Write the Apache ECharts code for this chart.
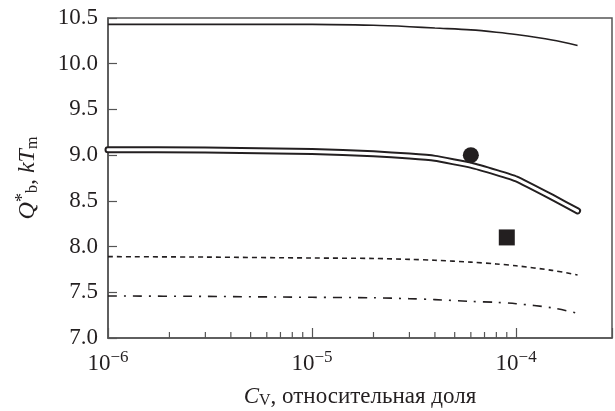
<!DOCTYPE html>
<html>
<head>
<meta charset="utf-8">
<script src="https://cdn.jsdelivr.net/npm/echarts@6/dist/echarts.min.js"></script>
<style>
  html, body { margin: 0; padding: 0; background: #fff; }
  #chart { width: 615px; height: 411px; }
</style>
</head>
<body>
<div id="chart"></div>
<script>
// Vacancy concentration C_V (relative fraction), log scale
const cv = [1e-6, 3e-6, 1e-5, 2e-5, 3e-5, 4e-5, 6e-5, 8e-5, 1e-4, 1.5e-4, 2e-4];

// Q*_b, kT_m curves
const upperSolid = [10.43, 10.43, 10.43, 10.42, 10.405, 10.39, 10.37, 10.345, 10.32, 10.26, 10.20];
const doubleLine = [9.06, 9.055, 9.04, 9.015, 8.99, 8.965, 8.89, 8.81, 8.74, 8.54, 8.39];
const dashed     = [7.89, 7.885, 7.875, 7.87, 7.86, 7.85, 7.83, 7.81, 7.79, 7.74, 7.69];
const dashDot    = [7.46, 7.455, 7.445, 7.44, 7.43, 7.42, 7.40, 7.39, 7.375, 7.33, 7.27];

// Single measured points
const circlePoint = [6e-5, 9.0];
const squarePoint = [9e-5, 8.1];

// Axis settings
const yTicks = [7.0, 7.5, 8.0, 8.5, 9.0, 9.5, 10.0, 10.5];
const xMinorTicks = [2e-6, 3e-6, 4e-6, 5e-6, 6e-6, 7e-6, 8e-6, 9e-6,
                     2e-5, 3e-5, 4e-5, 5e-5, 6e-5, 7e-5, 8e-5, 9e-5];

const pair = ys => cv.map((x, i) => [x, ys[i]]);

const serif = '"Liberation Serif", "DejaVu Serif", serif';
const ink = '#231f20';
const frame = '#555';

const chart = echarts.init(document.getElementById('chart'), null, { renderer: 'canvas' });

chart.setOption({
  animation: false,
  backgroundColor: '#fff',
  grid: {
    left: 108, right: 3, top: 18, bottom: 73,
    outerBoundsMode: 'none',
    containLabel: false,
    show: true, borderColor: frame, borderWidth: 1.5, backgroundColor: 'transparent'
  },
  xAxis: {
    type: 'log',
    logBase: 10,
    min: 1e-6,
    max: 2.95e-4,
    splitLine: { show: false },
    axisLine: { show: true, lineStyle: { color: frame, width: 1.5 } },
    axisTick: { show: true, inside: true, length: 10, lineStyle: { color: frame, width: 1.2 } },
    axisLabel: {
      margin: 11,
      color: ink,
      fontFamily: serif,
      formatter: function (v) {
        const e = Math.log10(v);
        const r = Math.round(e);
        if (Math.abs(e - r) > 1e-6) return '';
        return '{b|10}{s|\u2212' + Math.abs(r) + '}';
      },
      rich: {
        b: { fontFamily: serif, fontSize: 23, color: ink, lineHeight: 26, verticalAlign: 'bottom' },
        s: { fontFamily: serif, fontSize: 17, color: ink, lineHeight: 14, verticalAlign: 'top', padding: [0, 0, 10, 0] }
      }
    },
    name: '{i|C}{sub|V}{n|, относительная доля}',
    nameLocation: 'middle',
    nameGap: 46,
    nameTextStyle: {
      color: ink,
      rich: {
        i: { fontFamily: serif, fontSize: 23, fontStyle: 'italic', color: ink, lineHeight: 26 },
        sub: { fontFamily: serif, fontSize: 16, color: ink, lineHeight: 26, padding: [8, 0, 0, 0] },
        n: { fontFamily: serif, fontSize: 23, color: ink, lineHeight: 26 }
      }
    }
  },
  yAxis: {
    type: 'value',
    min: yTicks[0],
    max: yTicks[yTicks.length - 1],
    interval: 0.5,
    splitLine: { show: false },
    axisLine: { show: true, lineStyle: { color: frame, width: 1.5 } },
    axisTick: { show: true, inside: true, length: 9, lineStyle: { color: frame, width: 1.2 } },
    axisLabel: {
      margin: 10,
      color: ink,
      fontFamily: serif,
      fontSize: 23,
      formatter: v => v.toFixed(1)
    },
    name: '{i|Q}{sup|*}{sub|b}{n|, }{i|kT}{sub|m}',
    nameLocation: 'middle',
    nameRotate: 90,
    nameGap: 66,
    nameTextStyle: {
      color: ink,
      rich: {
        i: { fontFamily: serif, fontSize: 24, fontStyle: 'italic', color: ink, lineHeight: 28 },
        sup: { fontFamily: serif, fontSize: 18, color: ink, lineHeight: 28, padding: [0, 0, 10, 0] },
        sub: { fontFamily: serif, fontSize: 16, color: ink, lineHeight: 28, padding: [9, 0, 0, 0] },
        n: { fontFamily: serif, fontSize: 24, color: ink, lineHeight: 28 }
      }
    }
  },
  series: [
    {
      // minor ticks of the log axis, placed through the axis scale
      type: 'custom',
      silent: true,
      data: xMinorTicks.map(v => [v, yTicks[0]]),
      renderItem: function (params, api) {
        const p = api.coord([api.value(0), api.value(1)]);
        return {
          type: 'line',
          shape: { x1: p[0], y1: p[1], x2: p[0], y2: p[1] - 6 },
          style: { stroke: frame, lineWidth: 1.2 }
        };
      },
      z: 1
    },
    {
      type: 'line', data: pair(upperSolid), showSymbol: false, smooth: 0.3,
      lineStyle: { color: ink, width: 1.6 }, z: 3
    },
    {
      // double line: dark outer stroke
      type: 'line', data: pair(doubleLine), showSymbol: false, smooth: 0.1,
      lineStyle: { color: ink, width: 7, cap: 'round', join: 'round' }, z: 3
    },
    {
      // double line: white core
      type: 'line', data: pair(doubleLine), showSymbol: false, smooth: 0.1,
      lineStyle: { color: '#fff', width: 3, cap: 'round', join: 'round' }, z: 4
    },
    {
      type: 'line', data: pair(dashed), showSymbol: false, smooth: 0.3,
      lineStyle: { color: ink, width: 1.6, type: [5, 4] }, z: 3
    },
    {
      type: 'line', data: pair(dashDot), showSymbol: false, smooth: 0.3,
      lineStyle: { color: ink, width: 1.6, type: [9, 7, 2, 7] }, z: 3
    },
    {
      type: 'scatter', data: [circlePoint], symbol: 'circle', symbolSize: 16,
      itemStyle: { color: ink, opacity: 1 }, z: 5
    },
    {
      type: 'scatter', data: [squarePoint], symbol: 'rect', symbolSize: 16,
      itemStyle: { color: ink, opacity: 1 }, z: 5
    }
  ]
});
</script>
</body>
</html>
